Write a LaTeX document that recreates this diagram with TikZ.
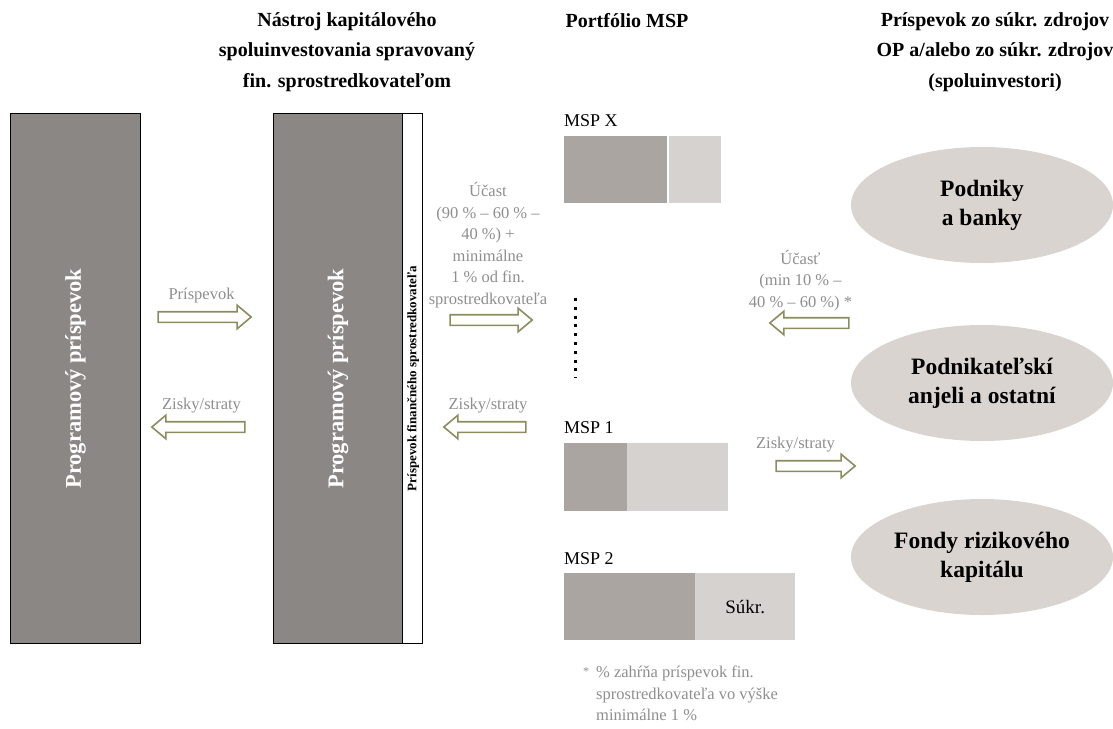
\documentclass[tikz,border=0pt]{standalone}
\usepackage{fontspec}
\setmainfont{Liberation Serif}
\usetikzlibrary{shapes.geometric,shapes.arrows}

\definecolor{boxgray}{HTML}{8B8784}
\definecolor{mspdark}{HTML}{ABA5A2}
\definecolor{msplight}{HTML}{D6D2CF}
\definecolor{ovalfill}{HTML}{D9D4D0}
\definecolor{olive}{HTML}{8C8C5E}
\definecolor{labelgray}{HTML}{8E8E8E}

\tikzset{
  header/.style={align=center, font=\bfseries\fontsize{20}{30.5}\selectfont, inner sep=0pt},
  graylabel/.style={align=center, text=labelgray, font=\fontsize{16.5}{21.5}\selectfont, inner sep=0pt},
  bigbox/.style={draw=black, line width=1.2pt, fill=boxgray, anchor=north west, minimum height=530, inner sep=0pt},
  vlabel/.style={rotate=90, text=white, font=\bfseries\fontsize{22.5}{24}\selectfont},
  mspbar/.style={anchor=north west, inner sep=0pt, minimum height=#1},
  msplabel/.style={anchor=south west, inner sep=0pt, font=\fontsize{18}{20}\selectfont},
  oval/.style={ellipse, fill=ovalfill, minimum width=262, minimum height=116, align=center,
               font=\bfseries\fontsize{23.5}{29}\selectfont},
  flowright/.style={single arrow, draw=olive, fill=white, line width=1.6pt,
                    inner xsep=0pt, inner ysep=4.5pt, minimum height=#1,
                    single arrow head extend=6.5pt, single arrow tip angle=80},
  flowleft/.style={flowright=#1, shape border rotate=180},
}

\begin{document}
\begin{tikzpicture}[x=1pt, y=-1pt]
\useasboundingbox (0,0) rectangle (1113,728);

% column headers
\node[header] (h1) at (347,52) {Nástroj kapitálového\\spoluinvestovania spravovaný\\fin. sprostredkovateľom};
\node[header] (h2) at (627,21) {Portfólio MSP};
\node[header] (h3) at (995,52) {Príspevok zo súkr. zdrojov\\OP a/alebo zo súkr. zdrojov\\(spoluinvestori)};

% programme contribution
\node[bigbox, minimum width=130] (prog) at (10,113) {};
\node[vlabel] at (prog.center) {Programový príspevok};

% co-investment instrument with the intermediary's strip
\node[bigbox, minimum width=129] (instr) at (273,113) {};
\node[draw=black, line width=1.2pt, fill=white, anchor=north west, minimum width=20,
      minimum height=530, inner sep=0pt] (strip) at (402,113) {};
\draw[dashed, line width=1pt] (strip.north west) -- (strip.south west);
\node[vlabel] at (instr.center) {Programový príspevok};
\node[rotate=90, font=\bfseries\fontsize{13}{14}\selectfont, inner sep=0pt]
  at ([xshift=0.5pt]strip.center) {Príspevok finančného sprostredkovateľa};

% arrows between programme and instrument
\node[flowright=93] (a1) at (201.5,317) {};
\node[graylabel, anchor=south] at ([yshift=8pt]a1.north) {Príspevok};
\node[flowleft=93] (a2) at (201.5,427) {};
\node[graylabel, anchor=south] at ([yshift=8pt]a2.north) {Zisky/straty};

% arrows between instrument and portfolio
\node[flowright=82] (a3) at (488,320) {};
\node[graylabel, anchor=south] at ([yshift=6pt]a3.north) {Účast\\(90 \% – 60 \% –\\40 \%) +\\minimálne\\1 \% od fin.\\sprostredkovateľa};
\node[flowleft=82] (a4) at (488,427) {};
\node[graylabel, anchor=south] at ([yshift=8pt]a4.north) {Zisky/straty};

% SME portfolio
\node[msplabel] (lx) at (564,127) {MSP X};
\node[mspbar=67, fill=mspdark, minimum width=103] (x1) at (564,136) {};
\node[mspbar=67, fill=msplight, minimum width=52] (x2) at (669,136) {};

\draw[line width=3pt, dash pattern=on 3pt off 5.8pt] (575,298) -- (575,378);

\node[msplabel] (l1) at (564,434) {MSP 1};
\node[mspbar=68, fill=mspdark, minimum width=63] (m1a) at (564,443) {};
\node[mspbar=68, fill=msplight, minimum width=101] (m1b) at (627,443) {};

\node[msplabel] (l2) at (564,565) {MSP 2};
\node[mspbar=67, fill=mspdark, minimum width=131] (m2a) at (564,573) {};
\node[mspbar=67, fill=msplight, minimum width=100, font=\fontsize{19}{20}\selectfont] (m2b) at (695,573) {Súkr.};

% co-investors
\node[oval] (o1) at (982,205) {Podniky\\a banky};
\node[oval] (o2) at (982,383) {Podnikateľskí\\anjeli a ostatní};
\node[oval] (o3) at (982,557) {Fondy rizikového\\kapitálu};

% arrows between co-investors and portfolio
\node[flowleft=79] (a5) at (812.5,323) {};
\node[graylabel, anchor=south] at ([xshift=-12pt, yshift=6pt]a5.north) {Účasť\\(min 10 \% –\\40 \% – 60 \%) *};
\node[flowright=79] (a6) at (812.5,466) {};
\node[graylabel, anchor=south] at ([xshift=-17pt, yshift=8pt]a6.north) {Zisky/straty};

% footnote
\node[text=labelgray, font=\fontsize{12}{12}\selectfont, inner sep=0pt] (star) at (586,672) {*};
\node[graylabel, align=left, anchor=north west] (note) at (596,666)
  {\% zahŕňa príspevok fin.\\sprostredkovateľa vo výške\\minimálne 1 \%};
\end{tikzpicture}
\end{document}
